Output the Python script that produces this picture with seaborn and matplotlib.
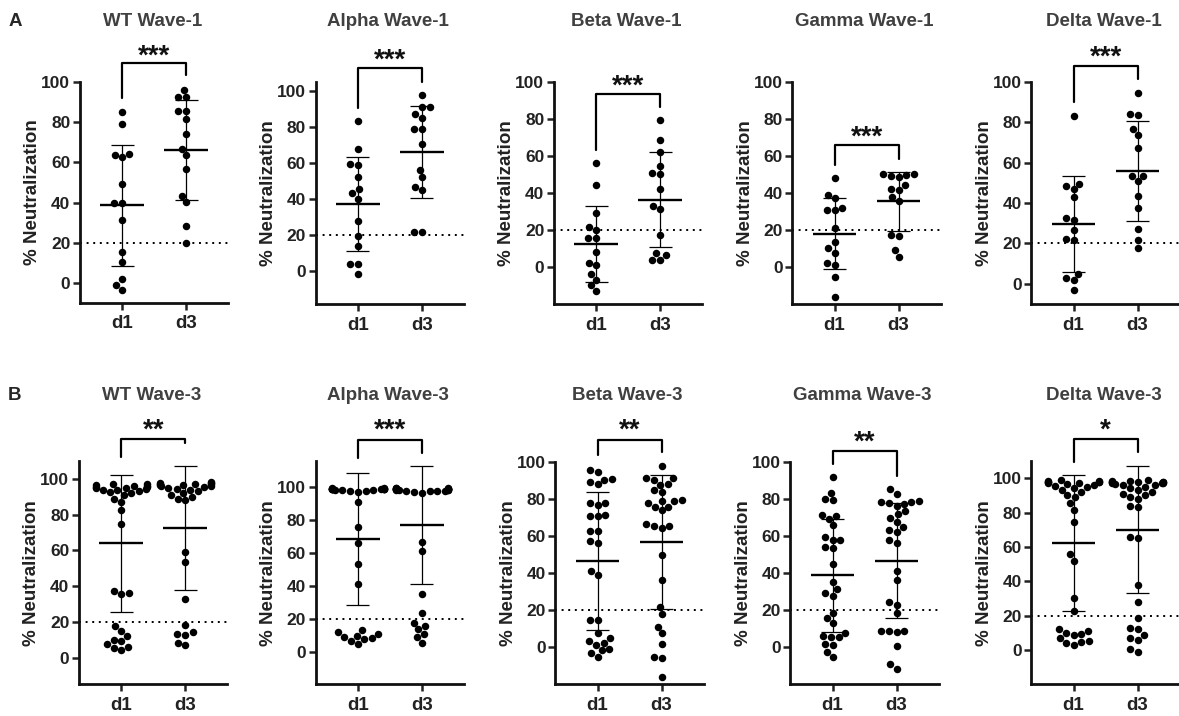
import warnings
import pandas as pd
import matplotlib
matplotlib.use('Agg')
import matplotlib.pyplot as plt
import seaborn as sns

warnings.filterwarnings('ignore')

days = ['d1', 'd3']
titles_w1 = ['WT Wave-1', 'Alpha Wave-1', 'Beta Wave-1', 'Gamma Wave-1', 'Delta Wave-1']
titles_w3 = ['WT Wave-3', 'Alpha Wave-3', 'Beta Wave-3', 'Gamma Wave-3', 'Delta Wave-3']
stars_w1 = ['***', '***', '***', '***', '***']
stars_w3 = ['**', '***', '**', '**', '*']

# % neutralization, wave-1 sera
wt_w1_d1 = [85, 79, 62.5, 63.5, 64, 49, 40, 40, 31.5, 15.5, 10.5, 2, -3.5, -1]
wt_w1_d3 = [96, 92.5, 92.5, 85.5, 85.5, 81.5, 74, 66.5, 63.5, 56.5, 43.5, 40.5, 28.5, 20]
alpha_w1_d1 = [83, 67.5, 58.5, 59.5, 52, 45.5, 43, 40, 27.5, 19.5, 13.5, 4, 3.5, -2]
alpha_w1_d3 = [97.5, 91, 91, 87, 85, 78.5, 78.5, 70.5, 56, 52, 45, 46.5, 21.5, 21.5]
beta_w1_d1 = [56, 44, 29, 20, 21.5, 15.5, 15.5, 8, 1, 2, -7, -4, -10, -13]
beta_w1_d3 = [79.5, 68.5, 62, 54.5, 50.5, 50, 42, 33, 31.5, 17.5, 4, 7.5, 4, 6.5]
gamma_w1_d1 = [48, 37, 39, 30.5, 32, 30.5, 21, 13.5, 10, 7.5, 1, 2, -5.5, -16]
gamma_w1_d3 = [48.5, 49, 50, 49.5, 50, 41.5, 42, 44, 35.5, 37.5, 16.5, 17.5, 9, 5.5]
delta_w1_d1 = [83, 47, 48.5, 49.5, 43, 32.5, 31.5, 26.5, 22, 21.5, 5, 2, 3, -3]
delta_w1_d3 = [94.5, 84, 83.5, 73.5, 76.5, 67, 53.5, 51, 53.5, 43.5, 37.5, 27, 21.5, 17.5]

# % neutralization, wave-3 sera
wt_w3_d1 = [97, 97, 96.5, 96, 96, 95.5, 95.5, 95, 95, 94.5, 94, 93.5, 93, 92.5, 92, 91, 89, 87,
            82.5, 74.5, 36, 35.5, 37.5, 17.5, 15, 12, 10, 9, 7.5, 6, 5.5, 4]
wt_w3_d3 = [98, 97.5, 97.5, 97, 97, 97, 96.5, 96.5, 96, 96, 95.5, 95, 94.5, 94, 93, 92, 91, 90, 89, 88,
            59, 53.5, 32.5, 18, 14, 13, 12.5, 8, 7]
alpha_w3_d1 = [99.5, 99.5, 99, 99, 99, 99, 99, 99, 99, 99, 99, 99, 98.5, 98.5, 98.5, 98, 97.5, 97,
               91, 76, 66, 53.5, 41.5, 13.5, 12, 11, 10, 9.5, 8.5, 8, 7, 5]
alpha_w3_d3 = [99.5, 99.5, 99.5, 99, 99, 99, 99, 99, 99, 99, 99, 99, 99, 98.5, 98.5, 98.5, 98.5, 98,
               98, 97.5, 97.5, 97, 96.5, 67, 61.5, 35.5, 23.5, 18, 16, 14, 11, 9, 5.5]
beta_w3_d1 = [96, 94.5, 89.5, 88.5, 91, 90.5, 77, 78, 78, 71, 71.5, 71, 63, 63, 57.5, 56.5, 41, 39,
              14.5, 15, 7.5, 5, 3.5, 1.5, 2.5, -1, -3, -1.5, -5]
beta_w3_d3 = [98, 91.5, 91.5, 90.5, 88, 88.5, 84, 85, 79, 79, 78, 79.5, 76, 74, 76, 64.5, 65.5, 65.5,
              66.5, 50, 36.5, 22, 18, 11, 7.5, 2, -5.5, -6, -16]
gamma_w3_d1 = [92, 83.5, 79.5, 80, 71, 66, 69.5, 71.5, 59.5, 58, 58, 53.5, 54, 45, 35.5, 28, 29.5,
               31.5, 18.5, 16, 13, 6, 5.5, 5.5, 8, 1.5, 2, -2.5, -5.5]
gamma_w3_d3 = [85.5, 83, 78.5, 79, 78, 78.5, 77.5, 76.5, 70, 72, 73.5, 68, 62.5, 63.5, 65, 58, 56.5,
               41, 36.5, 24.5, 23, 18.5, 9, 9, 9, 8.5, 0.5, -11.5, -9]
delta_w3_d1 = [99, 98.5, 98.5, 98, 98, 97.5, 97.5, 97, 97, 96.5, 96, 95.5, 95, 94, 93, 92, 90, 89,
               85.5, 81.5, 74.5, 56, 52, 30.5, 22.5, 12, 11, 10, 9, 8.5, 7, 5, 4.5, 4, 3]
delta_w3_d3 = [99, 98.5, 98.5, 98, 98, 98, 97.5, 97.5, 97, 97, 97, 96.5, 96, 96, 95, 94, 93, 92, 91,
               90, 89, 88, 84, 83, 66, 65, 38, 28, 18.5, 13, 12, 8.5, 7, 6, 0.5, -1]

# mean and SD bars as drawn in the figure (d1, d3)
mean_w1 = [(38.6, 66.2), (37.0, 66.0), (12.4, 36.4), (18.0, 35.4), (29.5, 56.0)]
sd_w1 = [(30.0, 25.0), (26.3, 25.6), (20.4, 25.4), (19.0, 16.0), (23.9, 24.7)]
mean_w3 = [(64.0, 72.6), (68.7, 77.2), (46.8, 57.0), (38.9, 46.9), (62.1, 70.0)]
sd_w3 = [(38.3, 34.8), (40.1, 35.8), (37.2, 36.4), (30.5, 31.2), (39.7, 37.1)]

data_w1 = [(wt_w1_d1, wt_w1_d3), (alpha_w1_d1, alpha_w1_d3), (beta_w1_d1, beta_w1_d3),
           (gamma_w1_d1, gamma_w1_d3), (delta_w1_d1, delta_w1_d3)]
data_w3 = [(wt_w3_d1, wt_w3_d3), (alpha_w3_d1, alpha_w3_d3), (beta_w3_d1, beta_w3_d3),
           (gamma_w3_d1, gamma_w3_d3), (delta_w3_d1, delta_w3_d3)]

sns.set_style('ticks')
plt.rcParams['font.family'] = ['Liberation Sans', 'DejaVu Sans']
plt.rcParams['font.weight'] = 'bold'
plt.rcParams['axes.labelweight'] = 'bold'

W, H = 1179, 716
fig = plt.figure(figsize=(W / 100, H / 100), dpi=100)

# layout in pixels: left, bottom, top, ylim, bracket (top, d1 end, d3 end, star y)
SPACING = 64
layout_w1 = [
    (80, 303, 82, (-10, 100), (109.4, 92, 103.5, 117)),
    (315.7, 304, 81.7, (-18.5, 105), (112.4, 90.4, 105, 121.7)),
    (554, 304, 81.7, (-20, 100), (93.4, 63.3, 86.2, 102.4)),
    (792.3, 304, 81.7, (-20, 100), (65.7, 55.3, 58.4, 74.6)),
    (1031.3, 304, 81.7, (-10, 100), (108, 90.1, 101.2, 116.5)),
]
layout_w3 = [
    (79, 684.3, 461, (-15, 110), (122.4, 112.5, 120, 132)),
    (315.7, 684.3, 461, (-19.5, 116), (128.7, 117.6, 120.6, 139.8)),
    (555.3, 684.3, 462.3, (-20, 100), (112, 103.9, 105.7, 121.8)),
    (790.3, 684.3, 462.3, (-20, 100), (106.2, 98.9, 92.8, 115.6)),
    (1031.3, 684.3, 461, (-20, 110), (122.7, 109.7, 115.5, 133)),
]


def draw_panel(lay, vals, mean, sd, title, stars, title_y):
    left, bottom, top, ylim, br = lay
    width = 2.32 * SPACING
    ax = fig.add_axes([left / W, 1 - bottom / H, width / W, (bottom - top) / H])
    d1, d3 = vals
    df = pd.DataFrame({'day': ['d1'] * len(d1) + ['d3'] * len(d3), 'val': d1 + d3})
    ax.axhline(20, ls=(0, (1, 2.4)), color='black', lw=1.4, zorder=1)
    sns.swarmplot(data=df, x='day', y='val', order=days, color='black', size=5.4,
                  linewidth=0, ax=ax, zorder=2)
    for i in range(2):
        ax.hlines(mean[i], i - 0.34, i + 0.34, color='black', lw=1.7, zorder=3)
        ax.vlines(i, mean[i] - sd[i], mean[i] + sd[i], color='black', lw=0.9, zorder=3)
        ax.hlines([mean[i] - sd[i], mean[i] + sd[i]], i - 0.18, i + 0.18,
                  color='black', lw=0.9, zorder=3)
    ax.set_xlim(-0.66, 1.66)
    ax.set_ylim(*ylim)
    ax.set_yticks([0, 20, 40, 60, 80, 100])
    ax.set_xlabel('')
    ax.set_ylabel('% Neutralization', fontsize=13.5, fontweight='bold', labelpad=0,
                  color='#222222')
    ax.tick_params(axis='both', width=1.8, length=5, labelsize=12.5, colors='#222222',
                   pad=2)
    ax.tick_params(axis='x', labelsize=13.5, pad=4)
    sns.despine(ax=ax)
    for s in ['left', 'bottom']:
        ax.spines[s].set_linewidth(2.0)
        ax.spines[s].set_color('#111111')

    ytop, yd1, yd3, ystar = br
    ax.plot([0, 0, 1, 1], [yd1, ytop, ytop, yd3], color='black', lw=1.6, clip_on=False)
    ax.annotate(stars, xy=(0.5, ystar), xytext=(0, -11.5), textcoords='offset points',
                ha='center', va='baseline', fontsize=20, color='#111111',
                annotation_clip=False)

    fig.text((left + width / 2 - 2) / W, 1 - title_y / H, title, ha='center', va='center',
             fontsize=13.5, color='#404040', weight='bold')


for k in range(5):
    draw_panel(layout_w1[k], data_w1[k], mean_w1[k], sd_w1[k], titles_w1[k], stars_w1[k], 22)
    draw_panel(layout_w3[k], data_w3[k], mean_w3[k], sd_w3[k], titles_w3[k], stars_w3[k], 396)

fig.text(15 / W, 1 - 22 / H, 'A', ha='center', va='center', fontsize=13.5, weight='bold')
fig.text(15 / W, 1 - 396 / H, 'B', ha='center', va='center', fontsize=13.5, weight='bold')

fig.savefig('out.png', dpi=100, facecolor='white')
